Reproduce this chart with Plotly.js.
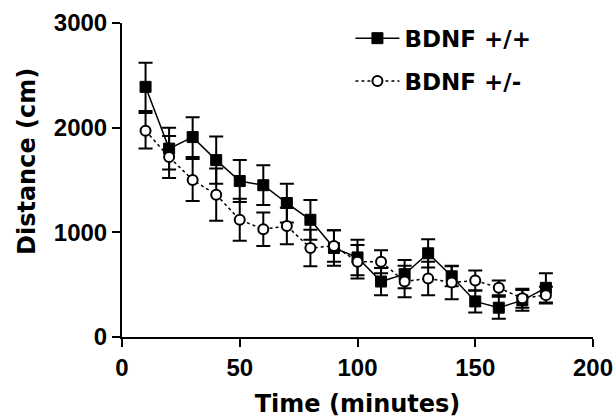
<!DOCTYPE html>
<html>
<head>
<meta charset="utf-8">
<script src="https://cdn.plot.ly/plotly-3.0.1.min.js"></script>
<style>html,body{margin:0;padding:0;background:#fff}#chart{width:616px;height:420px}</style>
</head>
<body>
<div id="chart"></div>
<script>
// Data
const timeMinutes = [10, 20, 30, 40, 50, 60, 70, 80, 90, 100, 110, 120, 130, 140, 150, 160, 170, 180];
const wtDistance  = [2390, 1800, 1910, 1690, 1490, 1450, 1280, 1120, 850, 760, 530, 600, 800, 580, 340, 280, 350, 470];
const wtError     = [230, 200, 190, 225, 200, 190, 185, 190, 170, 170, 130, 135, 135, 95, 105, 105, 100, 140];
const hetDistance = [1970, 1720, 1500, 1360, 1120, 1030, 1060, 850, 870, 720, 720, 530, 560, 520, 540, 470, 370, 400];
const hetError    = [170, 200, 200, 250, 200, 160, 175, 175, 150, 160, 110, 150, 160, 160, 95, 70, 90, 80];
const seriesNames = ["BDNF +/+", "BDNF +/-"];
const xTicks = [0, 50, 100, 150, 200];
const yTicks = [0, 1000, 2000, 3000];
const xTitle = "Time (minutes)";
const yTitle = "Distance (cm)";

const titleFont = {family: "DejaVu Sans", size: 24, color: "#000", weight: "bold"};
const tickFont = {family: "Liberation Sans, Arial", size: 24, color: "#000", weight: "bold"};

const traces = [
  {
    x: timeMinutes, y: wtDistance, name: seriesNames[0], legendgroup: "a",
    type: "scatter", mode: "lines+markers",
    line: {color: "#000", width: 1.5},
    marker: {symbol: "square", size: 11, color: "#000", line: {color: "#000", width: 1}},
    error_y: {type: "data", array: wtError, visible: true, color: "#000", thickness: 2, width: 7}
  },
  {
    x: timeMinutes, y: hetDistance, name: seriesNames[1], legendgroup: "b",
    type: "scatter", mode: "lines+markers",
    line: {color: "#000", width: 1.5, dash: "dot"},
    marker: {symbol: "circle", size: 10, color: "#fff", line: {color: "#000", width: 2}},
    error_y: {type: "data", array: hetError, visible: true, color: "#000", thickness: 2, width: 7}
  }
];

const layout = {
  width: 616, height: 420,
  margin: {l: 122, r: 23, t: 23, b: 83, pad: 0},
  paper_bgcolor: "#fff", plot_bgcolor: "#fff",
  showlegend: true,
  legend: {
    x: 0.485, y: 1.02, xanchor: "left", yanchor: "top",
    font: {family: "DejaVu Sans", size: 23, color: "#000", weight: "bold"},
    bgcolor: "rgba(0,0,0,0)", itemwidth: 44, tracegroupgap: 10, traceorder: "grouped"
  },
  xaxis: {
    range: [0, 200], tickvals: xTicks, ticktext: xTicks.map(String),
    showline: true, linecolor: "#000", linewidth: 2,
    ticks: "outside", ticklen: 8, tickwidth: 2, tickcolor: "#000",
    showgrid: false, zeroline: false, tickfont: tickFont,
    title: {text: xTitle, font: titleFont, standoff: 15}
  },
  yaxis: {
    range: [0, 3000], tickvals: yTicks, ticktext: yTicks.map(String),
    showline: true, linecolor: "#000", linewidth: 2,
    ticks: "outside", ticklen: 8, tickwidth: 2, tickcolor: "#000",
    showgrid: false, zeroline: false, tickfont: tickFont
  },
  annotations: [{
    text: yTitle, textangle: -90, showarrow: false,
    xref: "paper", yref: "paper",
    x: (27 - 122) / 471, y: (337 - 162) / 314,
    xanchor: "center", yanchor: "middle",
    font: titleFont
  }]
};

Plotly.newPlot("chart", traces, layout, {displayModeBar: false, staticPlot: true});
</script>
</body>
</html>
